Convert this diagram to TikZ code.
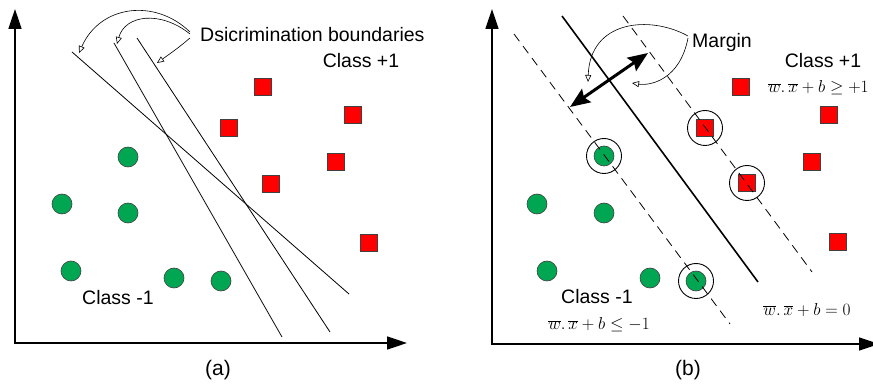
\documentclass[tikz,border=0pt]{standalone}
\usepackage{fontspec}
\setmainfont{Liberation Sans}
\usetikzlibrary{arrows.meta}
\definecolor{ptgreen}{RGB}{0,166,81}
\definecolor{ptred}{RGB}{255,0,0}
\begin{document}
\begin{tikzpicture}[x=1pt,y=-1pt,
  ptsq/.style={draw=black!75,fill=ptred,minimum size=17pt,inner sep=0pt,line width=0.6pt},
  ptdot/.style={circle,draw=black!75,fill=ptgreen,minimum size=20pt,inner sep=0pt,line width=0.6pt},
  svring/.style={circle,draw=black,minimum size=35pt,inner sep=0pt,line width=0.9pt},
  axisarr/.style={line width=1.6pt,{Triangle[length=20pt,width=13pt]}-{Triangle[length=20pt,width=13pt]}},
  bndline/.style={line width=0.8pt},
  dashln/.style={line width=0.8pt,dash pattern=on 9pt off 6pt},
  callarr/.style={line width=0.6pt,-{Triangle[open,length=7pt,width=6pt,fill=white]}},
  lbltxt/.style={font=\fontsize{19.5}{22}\selectfont,inner sep=0pt},
  captxt/.style={font=\fontsize{21}{24}\selectfont,inner sep=0pt},
  eqtxt/.style={font=\fontsize{17}{20}\selectfont,inner sep=1pt}]
\useasboundingbox (0,0) rectangle (873,387);

% ---------- panel (a) ----------
\coordinate (aY) at (15,9);
\coordinate (aX) at (407,343);
\draw[axisarr] (aY) |- (aX);
\node[captxt] (capa) at (218,370) {(a)};

\node[ptdot] (ag1) at (128,157) {};
\node[ptdot] (ag2) at (62,204) {};
\node[ptdot] (ag3) at (128,213) {};
\node[ptdot] (ag4) at (71,271) {};
\node[ptdot] (ag5) at (174,278) {};
\node[ptdot] (ag6) at (221,281) {};

\node[ptsq] (ar1) at (263,87) {};
\node[ptsq] (ar2) at (353,115) {};
\node[ptsq] (ar3) at (229,128) {};
\node[ptsq] (ar4) at (336,162) {};
\node[ptsq] (ar5) at (271,184) {};
\node[ptsq] (ar6) at (369,243) {};

\coordinate (l1s) at (72,52);  \coordinate (l1e) at (349,294);
\coordinate (l2s) at (114,43); \coordinate (l2e) at (282,337);
\coordinate (l3s) at (137,38); \coordinate (l3e) at (330,332);
\draw[bndline] (l1s) -- (l1e);
\draw[bndline] (l2s) -- (l2e);
\draw[bndline] (l3s) -- (l3e);

\node[lbltxt,anchor=west] (db) at (200,35) {Dsicrimination boundaries};
\node[lbltxt] (ac1) at (361,61) {Class +1};
\node[lbltxt] (acm) at (118,298) {Class -1};

\coordinate (dA) at (190,32); \coordinate (tA) at (79,53);
\coordinate (dB) at (190,34); \coordinate (tB) at (117,44);
\coordinate (dC) at (190,38); \coordinate (tC) at (157,63);
\draw[callarr] (dA) .. controls (155,-2) and (100,5) .. (tA);
\draw[callarr] (dB) .. controls (160,10) and (125,15) .. (tB);
\draw[callarr] (dC) .. controls (178,48) .. (tC);

% ---------- panel (b) ----------
\coordinate (bY) at (492,9);
\coordinate (bX) at (879,344);
\draw[axisarr] (bY) |- (bX);
\node[captxt] (capb) at (688,370) {(b)};

\node[ptdot] (bg1) at (604,156) {};
\node[ptdot] (bg2) at (537,204) {};
\node[ptdot] (bg3) at (604,213) {};
\node[ptdot] (bg4) at (547,271) {};
\node[ptdot] (bg5) at (650,278) {};
\node[ptdot] (bg6) at (696,281) {};

\node[ptsq] (br1) at (741,87) {};
\node[ptsq] (br2) at (829,115) {};
\node[ptsq] (br3) at (705,128) {};
\node[ptsq] (br4) at (812,162) {};
\node[ptsq] (br5) at (747,183) {};
\node[ptsq] (br6) at (838,242) {};

\coordinate (hs) at (562,16);  \coordinate (he) at (758,282);
\coordinate (ms) at (514,34);  \coordinate (me) at (730,324);
\coordinate (ps) at (623,16);  \coordinate (pe) at (812,272);
\draw[line width=1.6pt] (hs) -- (he);
\draw[dashln] (ms) -- (me);
\draw[dashln] (ps) -- (pe);

\node[svring] (sv1) at (bg1) {};
\node[svring] (sv2) at (bg6) {};
\node[svring] (sv3) at (br3) {};
\node[svring] (sv4) at (br5) {};

\coordinate (mA) at (570,107); \coordinate (mB) at (648,53);
\draw[line width=3pt,{Stealth[length=20pt,width=16pt,inset=3pt]}-{Stealth[length=20pt,width=16pt,inset=3pt]}] (mA) -- (mB);

\node[lbltxt,anchor=west] (mg) at (692,42) {Margin};
\coordinate (gA) at (688,36); \coordinate (gtA) at (588,82);
\coordinate (gB) at (688,38); \coordinate (gtB) at (632,83);
\draw[callarr] (gA) .. controls (650,15) and (590,20) .. (gtA);
\draw[callarr] (gB) .. controls (680,80) and (650,86) .. (gtB);

\node[lbltxt] (bc1) at (823,61) {Class +1};
\node[lbltxt] (bcm) at (597,297) {Class -1};

\node[eqtxt,anchor=west] (eqp) at (767,88) {$\overline{w}.\,\overline{x}+b\geq+1$};
\node[eqtxt] (eqm) at (599,325) {$\overline{w}.\,\overline{x}+b\leq-1$};
\node[eqtxt] (eq0) at (807,310) {$\overline{w}.\,\overline{x}+b=0$};
\end{tikzpicture}
\end{document}
